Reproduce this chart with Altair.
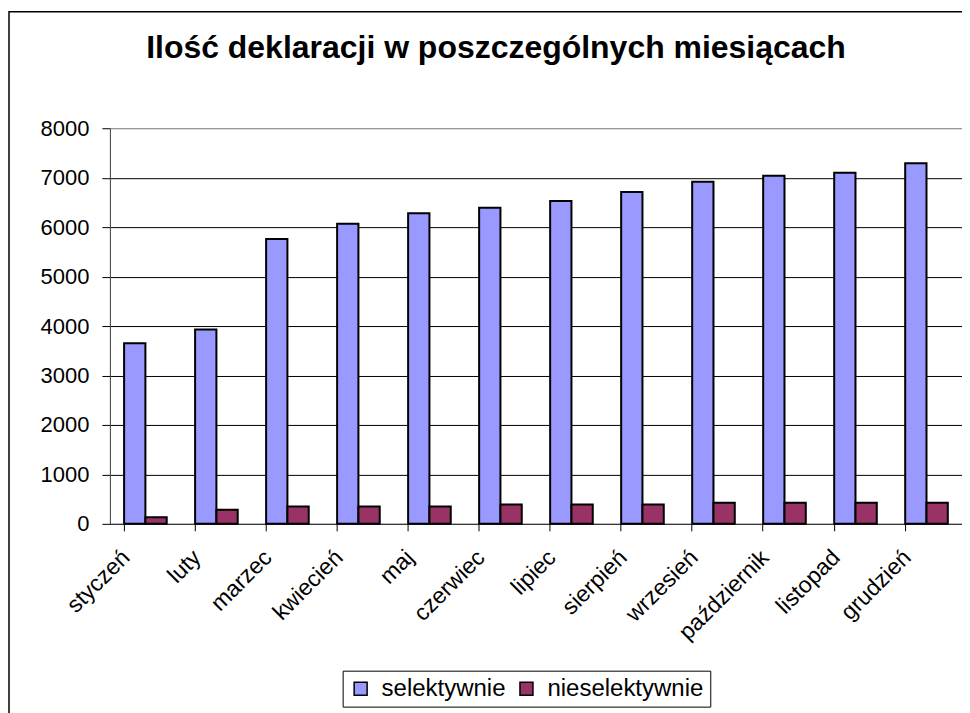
import altair as alt
import pandas as pd

months = ["styczeń", "luty", "marzec", "kwiecień", "maj", "czerwiec", "lipiec",
          "sierpień", "wrzesień", "październik", "listopad", "grudzień"]
selektywnie = [3650, 3930, 5760, 6070, 6280, 6390, 6530, 6710, 6920, 7040, 7100, 7290]
nieselektywnie = [135, 285, 350, 350, 350, 390, 390, 390, 425, 425, 425, 425]
series_names = ["selektywnie", "nieselektywnie"]
series_colors = ["#9999FF", "#993366"]
y_ticks = [0, 1000, 2000, 3000, 4000, 5000, 6000, 7000, 8000]
title_text = "Ilość deklaracji w poszczególnych miesiącach"

rows = []
for i, m in enumerate(months):
    rows.append({"miesiac": m, "seria": series_names[0], "wartosc": selektywnie[i]})
    rows.append({"miesiac": m, "seria": series_names[1], "wartosc": nieselektywnie[i]})
df = pd.DataFrame(rows)

FONT = "Liberation Sans"

bars = alt.Chart(df).mark_bar(stroke="black", strokeWidth=2).encode(
    x=alt.X("miesiac:N", sort=months,
            scale=alt.Scale(paddingInner=0.4, paddingOuter=0.2),
            axis=alt.Axis(title=None, bandPosition=0, labelOffset=-27, labelAngle=-45,
                          labelAlign="right", labelBaseline="top", tickSize=7,
                          labelPadding=15, labelFontSize=23, labelFont=FONT,
                          labelColor="black", tickColor="black", domainColor="#404040",
                          grid=False, labelOverlap=False)),
    xOffset=alt.XOffset("seria:N", sort=series_names,
                        scale=alt.Scale(paddingInner=0, paddingOuter=0)),
    y=alt.Y("wartosc:Q", scale=alt.Scale(domain=[0, 8000], nice=False),
            axis=alt.Axis(title=None, values=y_ticks, format="d", tickSize=8,
                          labelPadding=13, labelFontSize=22, labelFont=FONT,
                          labelColor="black", tickColor="black", domainColor="#404040",
                          grid=True,
                          gridColor={"condition": {"test": "datum.value >= 8000",
                                                   "value": "#808080"},
                                     "value": "black"},
                          gridWidth=1, gridOpacity=1)),
    color=alt.Color("seria:N", sort=series_names,
                    scale=alt.Scale(domain=series_names, range=series_colors),
                    legend=alt.Legend(title=None, orient="none", legendX=233, legendY=543,
                                      direction="horizontal", strokeColor="black",
                                      fillColor="white", padding=6,
                                      symbolType="square", symbolSize=169,
                                      symbolStrokeColor="black", symbolStrokeWidth=1.5,
                                      symbolOpacity=1, labelFontSize=24, labelFont=FONT,
                                      labelColor="black", labelOffset=9, labelLimit=0,
                                      columnPadding=8)),
)

frame = alt.Chart(pd.DataFrame({"a": [0]})).mark_rect(
    fillOpacity=0, stroke="black", strokeWidth=1.5, clip=False
).encode(
    x=alt.value(-101), x2=alt.value(1000), y=alt.value(-116.5), y2=alt.value(900)
)

chart = alt.layer(bars, frame).properties(
    width=853, height=396,
    padding={"left": 102, "top": 120, "right": 0, "bottom": 189},
    autosize=alt.AutoSizeParams(type="none"),
    title=alt.TitleParams(title_text, fontSize=32, font=FONT, fontWeight="bold",
                          color="black", anchor="middle", frame="group", dx=-40,
                          baseline="alphabetic", offset=-79),
).configure_view(fill="#C0C0C0", stroke="#808080", strokeWidth=1.5
).configure(background="white")

chart.save("out.html", embed_options={"renderer": "svg", "actions": False})
